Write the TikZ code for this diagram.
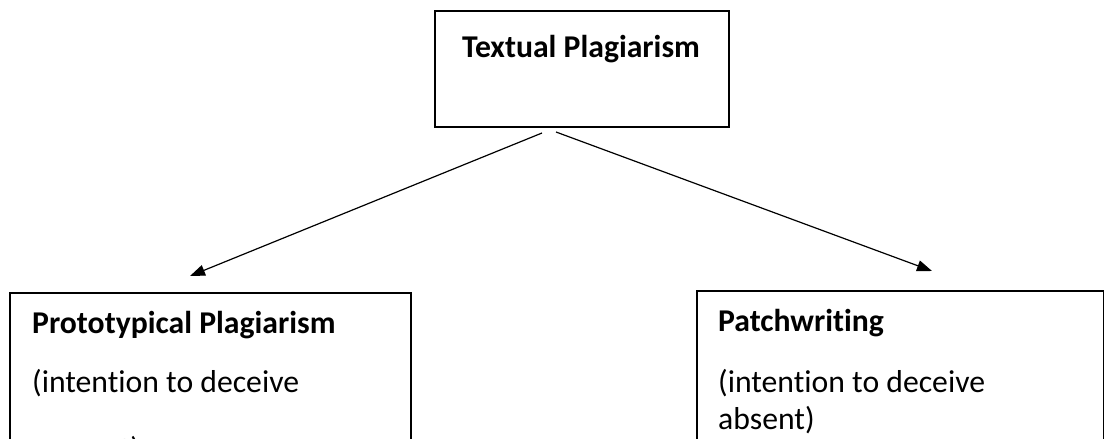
\documentclass[tikz,border=0pt]{standalone}
\usepackage{fontspec}
\setmainfont{Carlito}[Ligatures=NoCommon]
\usetikzlibrary{arrows.meta}
\begin{document}
\begin{tikzpicture}[x=1pt,y=-1pt,
  box/.style={draw=black, line width=2.4pt, rectangle, inner sep=0pt, anchor=north west},
  conn/.style={line width=1.2pt, -{Triangle[length=15pt,width=11pt]}},
  txt/.style={anchor=base west, inner sep=0pt, font=\fontsize{31.7}{38}\selectfont},
  boldtxt/.style={txt, font=\fontsize{31.7}{38}\selectfont\bfseries}]
\useasboundingbox (0,0) rectangle (1104,439);
\clip (0,0) rectangle (1104,439);
% boxes
\node[box, minimum width=294pt, minimum height=116pt] (top) at (434,10) {};
\node[box, minimum width=401pt, minimum height=230pt] (left) at (9,292) {};
\node[box, minimum width=407pt, minimum height=230pt] (right) at (696,290) {};
% texts
\node[boldtxt, anchor=base] (toplabel) at (581,57) {Textual Plagiarism};
\node[boldtxt] (ltitle) at (32,333) {Prototypical Plagiarism};
\node[txt] (lline1) at (32,392) {(intention to deceive};
\node[txt] (lline2) at (32,459) {present)};
\node[boldtxt] (rtitle) at (718,331) {Patchwriting};
\node[txt] (rline1) at (718,392) {(intention to deceive};
\node[txt] (rline2) at (718,429) {absent)};
% connectors
\coordinate (ls) at (542,133);
\coordinate (le) at (190,276);
\coordinate (rs) at (556,132);
\coordinate (re) at (932,271);
\draw[conn] (ls) -- (le);
\draw[conn] (rs) -- (re);
\end{tikzpicture}
\end{document}
